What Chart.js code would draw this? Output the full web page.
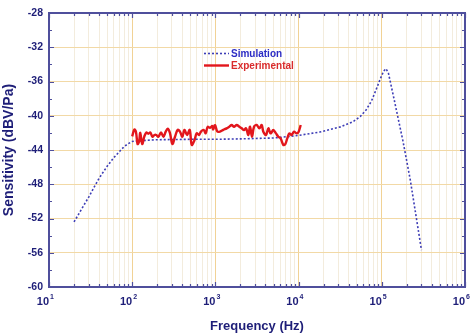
<!DOCTYPE html>
<html>
<head>
<meta charset="utf-8">
<script src="https://cdn.jsdelivr.net/npm/chart.js@4.4.1/dist/chart.umd.min.js"></script>
<style>
    html, body { margin: 0; padding: 0; background: #fff; }
    #wrap { width: 474px; height: 334px; }
</style>
</head>
<body>
<div id="wrap"><canvas id="plot" width="474" height="334"></canvas></div>
<script>
// simulated response (Hz, dBV/Pa)
var simFreq = [20, 25, 30, 35, 40, 50, 60, 70, 80, 90, 100, 130, 200, 500, 1000, 2000, 5000, 10000,
    18000, 32000, 45000, 55000, 65000, 75000, 85000, 95000, 105000, 112000, 120000, 140000, 180000, 220000, 300000];
var simVal = [-52.4, -50.8, -49.5, -48.3, -47.3, -45.9, -44.9, -44.2, -43.6, -43.25, -43.0, -42.9, -42.8, -42.75, -42.75, -42.7, -42.6, -42.3,
    -41.9, -41.3, -40.7, -40.1, -39.3, -38.3, -37.0, -35.8, -34.8, -34.5, -35.0, -38.0, -43.0, -47.5, -55.7];

// measured response
var expFreq = [100, 106, 111, 116, 121, 125, 132, 140, 148, 156, 165, 175, 185, 195, 206, 222, 237, 253, 267, 284,
    304, 327, 352, 375, 401, 424, 456, 491, 519, 559, 596, 635, 671, 723, 764, 807, 861, 918, 940, 989,
    1055, 1136, 1245, 1365, 1469, 1569, 1674, 1803, 1941, 2070, 2208, 2334, 2490, 2608, 2756, 2913, 3134, 3373, 3598, 3768,
    4055, 4326, 4615, 4967, 5346, 5703, 6083, 6547, 6920, 7315, 7732, 8255, 8812, 9484, 10020, 10600];
var expVal = [-42.4, -41.6, -41.9, -43.3, -43.0, -42.0, -43.3, -42.4, -41.95, -42.1, -41.95, -42.45, -42.25, -42.25, -42.45, -41.95, -42.45, -41.85, -41.5, -42.0,
    -43.3, -42.45, -41.65, -41.85, -42.45, -41.65, -42.25, -41.65, -43.4, -42.9, -42.05, -42.25, -41.85, -41.65, -42.05, -41.3, -41.4, -41.2, -41.6, -41.1,
    -41.85, -41.85, -41.65, -41.47, -41.28, -41.08, -41.28, -41.08, -41.28, -41.47, -41.67, -41.47, -42.25, -41.28, -42.45, -41.28, -41.08, -41.47, -41.08, -41.86,
    -42.25, -41.47, -42.06, -41.67, -42.06, -42.45, -42.64, -43.4, -43.3, -42.64, -42.06, -42.25, -41.86, -42.06, -41.86, -41.08];

var xExponents = [1, 2, 3, 4, 5, 6];
var yMin = -60, yMax = -28, yStep = 4;

var NAVY = "#1e1e78";
var AXIS = "#4f4f9c";
var FONT = "'Liberation Sans', Arial, sans-serif";

function toPoints(xs, ys) {
    return xs.map((x, i) => {
        return {x: x, y: ys[i]}
    });
}

// frame, inward ticks, 10^n labels and the legend
var decorations = {
    id: "decorations",
    afterDraw: function(chart) {
        var ctx = chart.ctx;
        var area = chart.chartArea;
        var xs = chart.scales.x;
        var ys = chart.scales.y;
        ctx.save();
        ctx.strokeStyle = AXIS;
        ctx.lineWidth = 1.2;
        ctx.beginPath();
        xs.ticks.forEach(function(t) {
            var px = Math.round(xs.getPixelForValue(t.value)) + 0.5;
            var len = t.major ? 5 : 3;
            ctx.moveTo(px, area.bottom); ctx.lineTo(px, area.bottom - len);
            ctx.moveTo(px, area.top); ctx.lineTo(px, area.top + len);
        });
        for (var v = yMin; v <= yMax; v += yStep / 2) {
            var py = Math.round(ys.getPixelForValue(v)) + 0.5;
            var len = ((v - yMin) % yStep == 0) ? 5 : 3;
            ctx.moveTo(area.left, py); ctx.lineTo(area.left + len, py);
            ctx.moveTo(area.right, py); ctx.lineTo(area.right - len, py);
        }
        ctx.stroke();
        ctx.lineWidth = 2;
        ctx.strokeRect(area.left, area.top, area.right - area.left, area.bottom - area.top);

        // x tick labels with superscript exponent
        ctx.fillStyle = NAVY;
        ctx.textBaseline = "alphabetic";
        xExponents.forEach(function(e) {
            var px = xs.getPixelForValue(Math.pow(10, e));
            ctx.font = "bold 11px " + FONT;
            ctx.textAlign = "right";
            ctx.fillText("10", px, 305);
            ctx.font = "bold 7px " + FONT;
            ctx.textAlign = "left";
            ctx.fillText(String(e), px + 1, 299);
        });

        // legend
        ctx.textAlign = "left";
        ctx.textBaseline = "middle";
        ctx.font = "bold 10px " + FONT;
        chart.data.datasets.forEach(function(ds, i) {
            var ly = 53.5 + i * 12;
            ctx.strokeStyle = ds.borderColor;
            ctx.lineWidth = ds.borderWidth;
            ctx.setLineDash(ds.borderDash || []);
            ctx.beginPath();
            ctx.moveTo(204, ly); ctx.lineTo(229, ly);
            ctx.stroke();
            ctx.setLineDash([]);
            ctx.fillStyle = ds.legendText;
            ctx.fillText(ds.label, 231, ly + 0.5);
        });
        ctx.restore();
    }
};

var chart;
function createChart(canvas) {
    Chart.defaults.font.family = FONT;
    chart = new Chart(canvas, {
        type: "scatter",
        data: {
            datasets: [
            {
                label: "Simulation",
                data: toPoints(simFreq, simVal),
                showLine: true,
                borderColor: "#3d3db6",
                legendText: "#2c2cc4",
                borderWidth: 1.6,
                borderDash: [2, 2],
                pointRadius: 0,
                tension: 0,
                order: 2,
            },
            {
                label: "Experimental",
                data: toPoints(expFreq, expVal),
                showLine: true,
                borderColor: "#e2161c",
                legendText: "#d92b2b",
                borderWidth: 2.4,
                pointRadius: 0,
                tension: 0.35,
                order: 1,
            },
            ]
        },
        options: {
            responsive: false,
            animation: false,
            layout: {
                padding: {left: 0, right: 9, top: 13, bottom: 0}
            },
            scales: {
                x: {
                    type: "logarithmic",
                    min: 10,
                    max: 1e6,
                    afterBuildTicks: function(scale) {
                        var ticks = [];
                        xExponents.forEach(function(e, i) {
                            var base = Math.pow(10, e);
                            ticks.push({value: base, major: true});
                            if (i < xExponents.length - 1) {
                                for (var m = 2; m <= 9; m++) {
                                    ticks.push({value: m * base, major: false});
                                }
                            }
                        });
                        scale.ticks = ticks;
                    },
                    afterFit: function(scale) { scale.height = 47; },
                    ticks: { display: false },
                    grid: {
                        drawTicks: false,
                        color: function(c) {
                            return (c.tick && c.tick.major) ? "#f1d295" : "#f3ecdd";
                        },
                    },
                    border: { display: false },
                    title: {
                        display: true,
                        text: "Frequency (Hz)",
                        color: NAVY,
                        font: {size: 13, weight: "bold"},
                        padding: {top: 0, bottom: 0},
                    }
                },
                y: {
                    min: yMin,
                    max: yMax,
                    afterFit: function(scale) { scale.width = 49; },
                    ticks: {
                        stepSize: yStep,
                        color: NAVY,
                        padding: 6,
                        font: {size: 10.5, weight: "bold"},
                    },
                    grid: {
                        drawTicks: false,
                        color: "#f2d9a6",
                    },
                    border: { display: false },
                    title: {
                        display: true,
                        text: "Sensitivity (dBV/Pa)",
                        color: NAVY,
                        font: {size: 14, weight: "bold"},
                        padding: {top: 1, bottom: 0},
                    }
                }
            },
            plugins: {
                legend: { display: false },
                tooltip: { enabled: false },
            }
        },
        plugins: [decorations]
    });
}

window.addEventListener("load", function() {
    createChart(document.getElementById("plot"));
});
</script>
</body>
</html>
